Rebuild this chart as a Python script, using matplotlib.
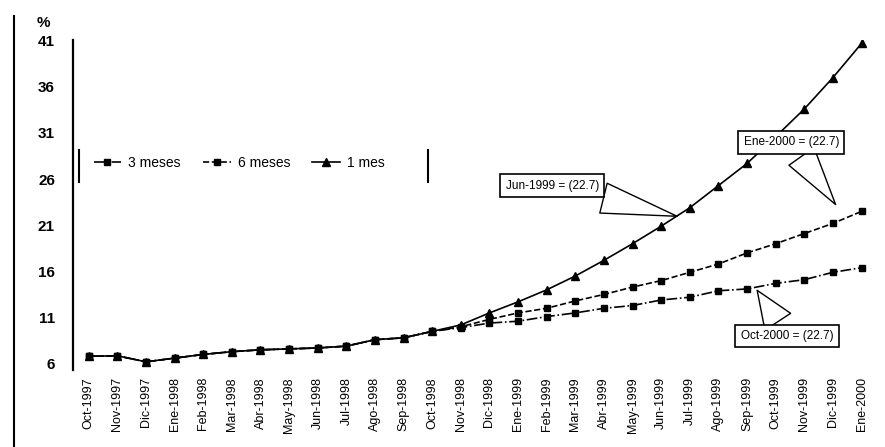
import numpy as np
import matplotlib
matplotlib.use("Agg")
import matplotlib.pyplot as plt

plt.rcParams['font.family'] = ['Liberation Sans', 'DejaVu Sans']

meses = ["Oct-1997", "Nov-1997", "Dic-1997", "Ene-1998", "Feb-1998", "Mar-1998",
         "Abr-1998", "May-1998", "Jun-1998", "Jul-1998", "Ago-1998", "Sep-1998",
         "Oct-1998", "Nov-1998", "Dic-1998", "Ene-1999", "Feb-1999", "Mar-1999",
         "Abr-1999", "May-1999", "Jun-1999", "Jul-1999", "Ago-1999", "Sep-1999",
         "Oct-1999", "Nov-1999", "Dic-1999", "Ene-2000"]

tres_meses = [6.8, 6.85, 6.2, 6.6, 7.0, 7.3, 7.5, 7.6, 7.7, 7.9, 8.6, 8.8,
              9.5, 9.9, 10.4, 10.6, 11.1, 11.5, 12.0, 12.3, 12.9, 13.2, 13.9, 14.1,
              14.7, 15.1, 15.9, 16.4]
seis_meses = [6.8, 6.85, 6.2, 6.6, 7.0, 7.3, 7.5, 7.6, 7.7, 7.9, 8.6, 8.8,
              9.5, 10.0, 10.8, 11.5, 12.0, 12.8, 13.5, 14.3, 15.0, 15.9, 16.8, 18.0,
              19.0, 20.1, 21.2, 22.5]
un_mes = [6.8, 6.85, 6.2, 6.6, 7.0, 7.3, 7.5, 7.6, 7.7, 7.9, 8.6, 8.8,
          9.5, 10.2, 11.5, 12.7, 14.0, 15.5, 17.2, 19.0, 20.9, 22.9, 25.3, 27.7,
          30.6, 33.6, 37.0, 40.7]

yticks = [6, 11, 16, 21, 26, 31, 36, 41]

x = np.arange(len(meses))

fig = plt.figure(figsize=(8.85, 4.47), dpi=100)
ax = fig.add_axes([0.0825, 0.172, 0.912, 0.739])

ax.plot(x, tres_meses, color="black", linestyle="-.", linewidth=1.2,
        marker="s", markersize=5, label="3 meses")
ax.plot(x, seis_meses, color="black", linestyle="--", linewidth=1.2,
        marker="s", markersize=5, label="6 meses")
ax.plot(x, un_mes, color="black", linestyle="-", linewidth=1.2,
        marker="^", markersize=5.5, label="1 mes")

ax.set_xlim(-0.55, 27.65)
ax.set_ylim(5.3, 41.1)
ax.set_yticks(yticks)
ax.set_yticklabels([str(v) for v in yticks], fontsize=11, fontweight="bold")
ax.set_xticks(x)
ax.set_xticklabels(meses, rotation=90, fontsize=9)
ax.tick_params(axis="y", length=0, pad=13)
ax.tick_params(axis="x", length=0, pad=5)

for s in ["top", "right", "bottom"]:
    ax.spines[s].set_visible(False)
ax.spines["left"].set_linewidth(1.6)

ax.text(-0.037, 1.03, "%", transform=ax.transAxes, fontsize=11, fontweight="bold",
        ha="center", va="bottom")

leg = ax.legend(loc="center left", bbox_to_anchor=(0.01, 0.627), ncol=3,
                frameon=False, fontsize=10, handlelength=2.0, columnspacing=1.6,
                handletextpad=0.5)
# barras verticales de la leyenda
ax.plot([0.008, 0.008], [0.57, 0.665], transform=ax.transAxes, color="black", lw=1.5)
ax.plot([0.44, 0.44], [0.57, 0.665], transform=ax.transAxes, color="black", lw=1.5)

box = dict(boxstyle="square,pad=0.45", fc="white", ec="black", lw=1.2)
wedge = dict(arrowstyle="wedge,tail_width=2.6,shrink_factor=0.5", fc="white", ec="black", lw=1.0)

i = meses.index("Jul-1999")
ax.annotate("Jun-1999 = (22.7)", xy=(i - 0.35, np.interp(i - 0.35, x, un_mes) - 0.3),
            xytext=(16.2, 25.3), fontsize=8.5, ha="center", va="center",
            bbox=box, arrowprops=wedge)
i = meses.index("Dic-1999")
ax.annotate("Ene-2000 = (22.7)", xy=(i + 0.15, seis_meses[i] + 1.8),
            xytext=(24.55, 30.0), fontsize=8.5, ha="center", va="center",
            bbox=box, arrowprops=wedge)
i = meses.index("Sep-1999")
ax.annotate("Oct-2000 = (22.7)", xy=(i + 0.3, tres_meses[i] + 0.1),
            xytext=(24.4, 9.0), fontsize=8.5, ha="center", va="center",
            bbox=box, arrowprops=wedge)

# borde del escaneo
fig.add_artist(plt.Line2D([0.016, 0.016], [0.0, 0.965], color="black", lw=1.5,
                          transform=fig.transFigure))

fig.savefig("out.png", dpi=100)
